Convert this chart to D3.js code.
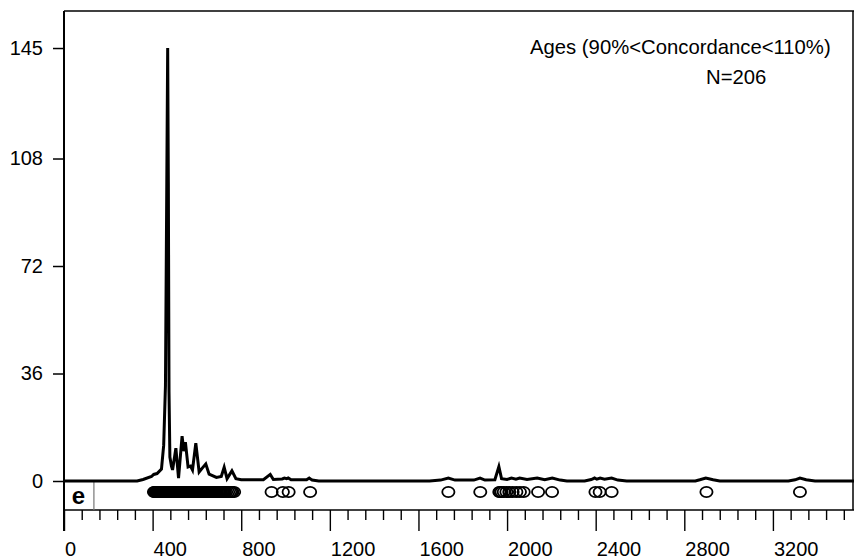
<!DOCTYPE html>
<html><head><meta charset="utf-8">
<script src="https://cdn.jsdelivr.net/npm/d3@7"></script>
<style>
body{margin:0;background:#fff}
svg{display:block}
text{font-family:"Liberation Sans",Arial,Helvetica,sans-serif;fill:#000}
</style>
</head><body>
<svg id="chart" width="854" height="560"></svg>
<script>
// ---- data ----
const curveAges = [0,330,357,395,405,420,440,450,458,464,468,471,474,478,485,490,505,517,533,541,548,560,571,580,595,610,625,640,655,688,710,723,736,758,776,800,900,931,945,985,995,1005,1012,1025,1095,1107,1120,1150,1650,1700,1735,1765,1850,1878,1900,1945,1963,1975,2000,2020,2040,2057,2090,2136,2170,2204,2240,2270,2350,2380,2395,2405,2420,2440,2472,2500,2540,2850,2870,2897,2930,2960,3270,3300,3322,3350,3390,3566];
const curveDensity = [0,0,0.5,1.5,2.2,2.5,4,12,32,100,145,100,30,8,5,3.7,11,1,15,10,13,4.7,5,3.7,12.7,3,4.4,5.7,2.3,1.2,1.5,4.6,0.8,3.4,0.8,0.4,0.4,2.2,0.5,0.7,1,0.8,1,0.4,0.4,1,0.3,0,0,0.3,1,0.3,0.3,1,0.3,0.4,4.8,0.8,0.5,1,0.6,1,0.5,1,0.4,1,0.3,0,0,0.5,1,0.6,1,0.6,1,0.3,0,0,0.4,1,0.4,0,0,0.4,1,0.4,0,0];

const grainAges = [
  406,409,412,416,419,422,425,428,431,434,437,440,442,444,446,448,450,451,452,453,
  455,456,457,458,459,460,460,461,461,462,462,462,463,463,463,464,464,464,465,465,
  465,465,466,466,466,466,467,467,467,467,467,468,468,468,468,468,469,469,469,469,
  470,470,470,470,471,471,471,472,472,472,473,473,474,474,475,475,476,477,478,479,
  480,481,482,483,484,
  487,490,494,498,501,503,505,506,507,508,510,513,516,520,524,
  526,527,529,530,531,532,533,534,535,536,537,538,540,541,542,543,545,546,547,548,549,550,552,555,
  558,562,566,569,572,575,578,582,586,589,
  590,591,592,593,594,595,596,597,598,599,600,601,603,605,
  608,612,616,620,624,628,632,636,638,640,642,644,647,650,654,658,663,668,673,678,684,690,696,702,708,
  714,718,722,726,732,741,750,756,760,768,
  937,988,1014,1111,
  1735,1879,
  1965,1968,1975,1985,1997,2010,2025,2042,2058,2075,
  2140,2203,
  2399,2418,2472,
  2900,3322
];

const yTicks = [0,36,72,108,145];
const xMajorTicks = [0,400,800,1200,1600,2000,2400,2800,3200];
const xAllTicks = d3.range(0, 3567, 80);
const titleText = "Ages (90%<Concordance<110%)";
const countText = "N=206";
const panelText = "e";

// ---- layout ----
const svg = d3.select("#chart");
const plotLeft = 64, plotRight = 853, plotTop = 11, zeroY = 481, stripBottom = 510;

const x = d3.scaleLinear().domain([0, 3566]).range([plotLeft, 854]);
const y = d3.scaleLinear().domain([0, 157.4]).range([zeroY, plotTop]);

// frame
svg.append("line").attr("x1", plotLeft).attr("x2", 854).attr("y1", plotTop).attr("y2", plotTop)
  .attr("stroke", "#000").attr("stroke-width", 1.5);
svg.append("line").attr("x1", plotRight).attr("x2", plotRight).attr("y1", plotTop).attr("y2", stripBottom)
  .attr("stroke", "#000").attr("stroke-width", 1.5);
svg.append("line").attr("x1", plotLeft).attr("x2", 854).attr("y1", stripBottom).attr("y2", stripBottom)
  .attr("stroke", "#000").attr("stroke-width", 1.5);

// panel label box
svg.append("line").attr("x1", x(135)).attr("x2", x(135)).attr("y1", zeroY).attr("y2", stripBottom)
  .attr("stroke", "#777").attr("stroke-width", 1.2);
svg.append("text").attr("x", plotLeft + 14.5).attr("y", 504).attr("text-anchor", "middle")
  .style("font-size", "24px").style("font-weight", "bold").text(panelText);

// y axis
const yAxis = d3.axisLeft(y).tickValues(yTicks).tickSize(11).tickPadding(10).tickFormat(d3.format("d"));
const gy = svg.append("g").attr("transform", `translate(${plotLeft},0)`).call(yAxis);
gy.select(".domain").remove();
gy.selectAll(".tick line").attr("stroke", "#000").attr("stroke-width", 1.5);
gy.selectAll(".tick text").style("font-size", "20px").style("font-family", "Liberation Sans, Arial, sans-serif");
svg.append("line").attr("x1", plotLeft).attr("x2", plotLeft).attr("y1", plotTop).attr("y2", 531)
  .attr("stroke", "#000").attr("stroke-width", 2);

// x axis
const xAxis = d3.axisBottom(x).tickValues(xAllTicks).tickSize(10)
  .tickFormat(d => xMajorTicks.includes(d) ? d : "");
const gx = svg.append("g").attr("transform", `translate(0,${stripBottom})`).call(xAxis);
gx.select(".domain").remove();
gx.selectAll(".tick line").attr("stroke", "#000").attr("stroke-width", 1.4)
  .attr("y2", d => xMajorTicks.includes(d) ? 21 : 10);
gx.selectAll(".tick text").attr("text-anchor", "start").attr("x", 0.5).attr("y", 46).attr("dy", 0)
  .style("font-size", "20px").style("font-family", "Liberation Sans, Arial, sans-serif");

// density curve
const line = d3.line().x((d, i) => x(curveAges[i])).y(d => y(d));
svg.append("path").datum(curveDensity).attr("d", line)
  .attr("fill", "none").attr("stroke", "#000").attr("stroke-width", 3).attr("stroke-linejoin", "miter");

// grain ellipses
svg.append("g").selectAll("ellipse").data(grainAges).join("ellipse")
  .attr("cx", d => x(d)).attr("cy", 492).attr("rx", 6.1).attr("ry", 5.2)
  .attr("fill", "none").attr("stroke", "#000").attr("stroke-width", 1.8);

// annotations
svg.append("text").attr("x", 530).attr("y", 54).style("font-size", "20.3px").text(titleText);
svg.append("text").attr("x", 706).attr("y", 84).style("font-size", "20.3px").text(countText);
</script>
</body></html>
